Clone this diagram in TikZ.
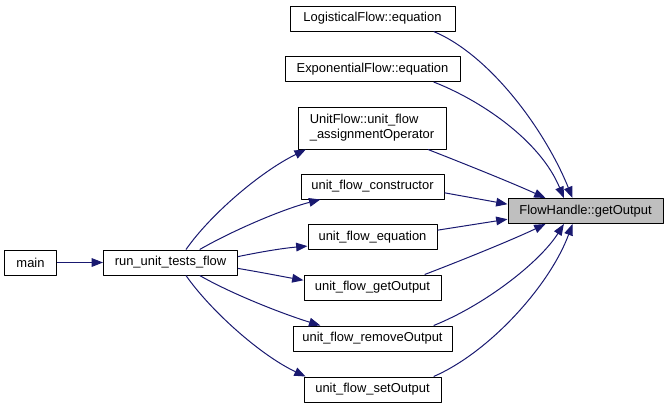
\documentclass[tikz,border=0pt]{standalone}
\usepackage{fontspec}
\setmainfont{Liberation Sans}
\usetikzlibrary{arrows.meta}
\definecolor{edgeblue}{HTML}{191970}
\definecolor{boxgray}{HTML}{BFBFBF}

\begin{document}
\begin{tikzpicture}[x=0.75pt, y=-0.75pt, line join=round,
    fn/.style={draw=black, line width=0.75pt, fill=white, inner sep=0pt,
      minimum height=18.75pt, font=\fontsize{9.7}{11.2}\selectfont},
    call/.style={draw=edgeblue, line width=0.75pt,
      -{Triangle[length=8.5pt,width=6.5pt]}}]
      \useasboundingbox (0,0) rectangle (668,408);

      \node[fn, minimum width=39pt] (main) at (30.5,262.5) {main};
      \node[fn, minimum width=100.5pt] (run) at (170.5,262.5) {run\_unit\_tests\_flow};

      \node[fn, minimum width=123.75pt] (logistic) at (372.5,18.5) {LogisticalFlow::equation};
      \node[fn, minimum width=131.25pt] (expo) at (372.5,69) {ExponentialFlow::equation};
      \node[fn, minimum width=111pt, minimum height=31.5pt, align=left] (assign) at (372,128)
        {UnitFlow::unit\_flow\\\_assignmentOperator};
      \node[fn, minimum width=107.25pt] (ctor) at (372.5,186.5) {unit\_flow\_constructor};
      \node[fn, minimum width=96.75pt] (eqn) at (372.5,237) {unit\_flow\_equation};
      \node[fn, minimum width=102.75pt] (getout) at (372.5,287.5) {unit\_flow\_getOutput};
      \node[fn, minimum width=119.25pt] (remout) at (372.5,338.5) {unit\_flow\_removeOutput};
      \node[fn, minimum width=102.75pt] (setout) at (372.5,389.5) {unit\_flow\_setOutput};

      \node[fn, fill=boxgray, minimum width=116.25pt] (handle) at (585.5,211) {FlowHandle::getOutput};

      % main -> run
      \draw[call] (main) -- (run);

      % run -> the tests
      \draw[call] (run.40) .. controls (210,215) and (260,172) .. (assign.198);
      \draw[call] (run.24) .. controls (230,232) and (280,210) .. (ctor.194);
      \draw[call] (run.5) .. controls (265,251) and (285,248) .. (eqn.188);
      \draw[call] (run.-5) .. controls (265,273) and (285,277) .. (getout.174);
      \draw[call] (run.-24) .. controls (230,293) and (280,313) .. (remout.166);
      \draw[call] (run.-40) .. controls (210,310) and (260,355) .. (setout.169);

      % callers -> FlowHandle::getOutput
      \draw[call] (logistic.348) .. controls (490,55) and (545,130) .. (handle.135);
      \draw[call] (expo.348) .. controls (480,100) and (540,140) .. (handle.149);
      \draw[call] (assign.339) .. controls (465,164) and (510,182) .. (handle.162);
      \draw[call] (ctor.355) -- (handle.175);
      \draw[call] (eqn.6) -- (handle.186);
      \draw[call] (getout.14) .. controls (460,261) and (512,240) .. (handle.198);
      \draw[call] (remout.12) .. controls (485,305) and (540,262) .. (handle.211);
      \draw[call] (setout.12) .. controls (490,352) and (550,285) .. (handle.225);
    \end{tikzpicture}
\end{document}
